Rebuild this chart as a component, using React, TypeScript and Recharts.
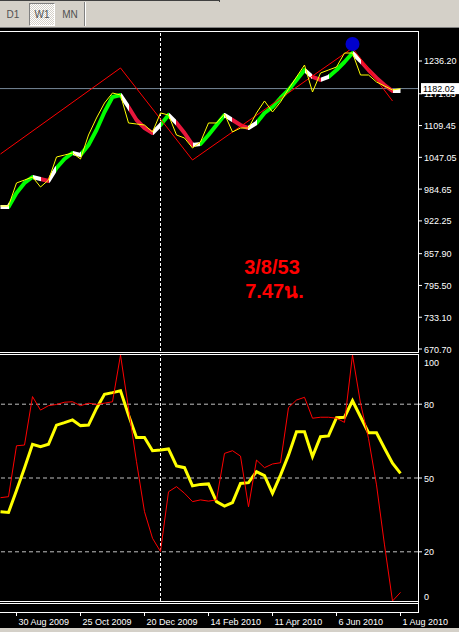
import React from 'react'
import {
  ComposedChart,
  Line,
  XAxis,
  YAxis,
  ReferenceLine,
  ReferenceDot,
} from 'recharts'

// weekly bars, 16 Aug 2009 .. 1 Aug 2010 (51 bars)
const closes = [
  951.5, 951.5, 996.7, 1002.5, 1008.4, 988.8, 1002.5, 1047.7, 1051.6, 1055.6,
  1043.8, 1090.9, 1124.3, 1153.7, 1173.4, 1169.4, 1114.5, 1112.5, 1110.5, 1096.8,
  1134.1, 1130.2, 1090.9, 1085.0, 1065.4, 1077.2, 1114.5, 1114.5, 1132.1, 1096.8,
  1104.6, 1104.6, 1134.1, 1157.7, 1136.1, 1155.7, 1181.2, 1204.8, 1228.3, 1175.3,
  1212.6, 1218.5, 1224.4, 1251.9, 1251.9, 1208.7, 1208.7, 1195.0, 1187.1, 1179.3,
  1182.0,
]

const maLine = [
  949.5, 949.5, 977.0, 996.7, 1008.4, 1004.5, 1000.6, 1026.1, 1043.8, 1055.6,
  1051.6, 1071.3, 1100.7, 1136.1, 1165.5, 1169.4, 1145.9, 1120.4, 1104.6, 1094.8,
  1110.5, 1130.2, 1114.5, 1094.8, 1071.3, 1073.2, 1090.9, 1110.5, 1130.2, 1120.4,
  1110.5, 1104.6, 1114.5, 1134.1, 1145.9, 1163.6, 1179.3, 1198.9, 1218.5, 1204.8,
  1198.9, 1204.8, 1218.5, 1234.2, 1251.9, 1236.2, 1218.5, 1202.8, 1189.1, 1177.3,
  1177.3,
]

// colour of each MA segment: g = up, r = down, w = turn
const maTrend = 'wgggwrwggwgggggwrrrwgwrrwgggwrrwggggggwrwgggwrrrrw'

const zigzagPivots: [number, number][] = [
  [0, 1053.6],
  [15, 1222.5],
  [24, 1041.8],
  [44, 1261.7],
  [49, 1157.7],
]

const topSignal = { bar: 44, price: 1269.6 }
const bid = 1182.02

const oscFast = [
  42.0, 42.4, 63.1, 63.4, 83.1, 77.6, 79.4, 79.9, 80.8, 81.0,
  79.4, 80.4, 79.9, 80.4, 81.0, 100, 78.3, 56.6, 36.3, 25.5,
  20.1, 44.4, 46.5, 43.8, 40.4, 41.1, 40.6, 41.1, 60.0, 61.1,
  58.9, 38.3, 57.3, 54.2, 55.7, 56.2, 78.6, 81.7, 82.8, 74.3,
  74.7, 74.7, 74.3, 72.6, 100, 80.4, 66.1, 47.2, 22.8, 0,
  3.5,
]

const oscSlow = [
  36.3, 36.0, 44.9, 54.1, 63.7, 62.7, 63.7, 71.5, 72.5, 73.6,
  71.3, 71.5, 78.3, 84.0, 84.7, 85.5, 75.6, 66.5, 66.5, 61.1,
  61.4, 61.8, 54.9, 54.2, 46.8, 47.4, 47.6, 40.4, 38.6, 40.0,
  47.8, 48.1, 52.6, 51.0, 43.8, 51.2, 59.3, 68.8, 68.8, 58.7,
  66.8, 67.1, 74.5, 74.7, 81.4, 74.9, 68.4, 68.4, 62.1, 56.0,
  51.9,
]

const priceTicks = [670.7, 733.1, 795.5, 857.9, 922.25, 984.65, 1047.05, 1109.45, 1171.85, 1236.2]
const oscTicks = [0, 20, 50, 80, 100]
const oscLevels = [20, 50, 80]
const dateTickBars = [2, 10, 18, 26, 34, 42, 50]
const dateTickLabels = ['30 Aug 2009', '25 Oct 2009', '20 Dec 2009', '14 Feb 2010', '11 Apr 2010', '6 Jun 2010', '1 Aug 2010']
const markerBar = 20

const xDomain = [-0.0625, 52.1875]
const FONT = '"Liberation Sans", Arial, sans-serif'
const TREND_COLORS: Record<string, string> = { g: '#00ff00', r: '#e8173c', w: '#ffffff' }

const mainData = closes.map((c, i) => {
  const pivot = zigzagPivots.find((p) => p[0] === i)
  return { bar: i, close: c, ma: maLine[i], zz: pivot ? pivot[1] : null }
})

const oscData = oscFast.map((v, i) => ({ bar: i, fast: v, slow: oscSlow[i] }))

function PriceTick(props: any) {
  const { x, y, payload } = props
  const v = payload.value
  if (v === bid) {
    return (
      <g>
        <rect x={x + 3} y={y - 5.5} width={38} height={11} fill="#ffffff" />
        <text x={x + 5} y={y + 3.5} fill="#000" fontSize={9} fontFamily={FONT}>
          {v.toFixed(2)}
        </text>
      </g>
    )
  }
  return (
    <g>
      <line x1={x + 1} x2={x + 4} y1={y} y2={y} stroke="#fff" />
      <text x={x + 6} y={y + 3.5} fill="#fff" fontSize={9} fontFamily={FONT}>
        {v.toFixed(2)}
      </text>
    </g>
  )
}

function OscTick(props: any) {
  const { x, y, payload } = props
  const v = payload.value
  let dy = 0
  if (v === 100) dy = 7
  if (v === 0) dy = -5
  return (
    <g>
      {v !== 0 && v !== 100 && <line x1={x + 1} x2={x + 4} y1={y} y2={y} stroke="#fff" />}
      <text x={x + 6} y={y + dy + 3.5} fill="#fff" fontSize={9} fontFamily={FONT}>
        {v}
      </text>
    </g>
  )
}

function DateTick(props: any) {
  const { x, y, payload } = props
  const idx = dateTickBars.indexOf(payload.value)
  return (
    <g>
      <line x1={x} x2={x} y1={y + 11} y2={y + 15} stroke="#fff" />
      <text x={x + 2} y={y + 24} fill="#fff" fontSize={9} fontFamily={FONT}>
        {dateTickLabels[idx]}
      </text>
    </g>
  )
}

const hLine = (top: number, left: number, width: number, color = '#fff') => (
  <div style={{ position: 'absolute', top, left, width, height: 1, background: color }} />
)
const vLine = (left: number, top: number, height: number, color = '#fff') => (
  <div style={{ position: 'absolute', top, left, width: 1, height, background: color }} />
)

export default function App() {
  return (
    <div
      style={{
        position: 'fixed',
        top: 0,
        left: 0,
        width: 459,
        height: 632,
        background: '#000',
        overflow: 'hidden',
        fontFamily: FONT,
      }}
    >
      {/* toolbar */}
      <div style={{ position: 'absolute', top: 0, left: 0, width: 459, height: 28, background: '#d4d0c8' }} />
      {hLine(0, 0, 219, '#404040')}
      {vLine(219, 0, 2, '#404040')}
      {hLine(27, 0, 459, '#808080')}
      <div
        style={{
          position: 'absolute',
          top: 3,
          left: 29,
          width: 24,
          height: 21,
          borderTop: '1px solid #808080',
          borderLeft: '1px solid #808080',
          borderBottom: '1px solid #fff',
          borderRight: '1px solid #fff',
          background: 'repeating-conic-gradient(#ffffff 0 25%, #d4d0c8 0 50%) 0 0 / 2px 2px',
        }}
      />
      {[
        { t: 'D1', left: 0 },
        { t: 'W1', left: 29 },
        { t: 'MN', left: 57 },
      ].map((b) => (
        <div
          key={b.t}
          style={{
            position: 'absolute',
            top: 9,
            left: b.left,
            width: 26,
            textAlign: 'center',
            fontSize: 10,
            lineHeight: '12px',
            color: '#505050',
          }}
        >
          {b.t}
        </div>
      ))}
      {vLine(84, 2, 24, '#808080')}
      {vLine(85, 2, 24, '#ffffff')}

      {/* main window */}
      <div style={{ position: 'absolute', top: 0, left: 0 }}>
        <ComposedChart width={459} height={360} data={mainData} margin={{ top: 31, right: 0, bottom: 9, left: 0 }}>
          <defs>
            <linearGradient id="maGrad" x1="0" y1="0" x2="1" y2="0">
              {maTrend.split('').flatMap((c, i) => [
                <stop key={`a${i}`} offset={i / maTrend.length} stopColor={TREND_COLORS[c]} />,
                <stop key={`b${i}`} offset={(i + 1) / maTrend.length} stopColor={TREND_COLORS[c]} />,
              ])}
            </linearGradient>
          </defs>
          <XAxis dataKey="bar" type="number" domain={xDomain} hide allowDataOverflow />
          <YAxis
            orientation="right"
            width={41}
            domain={[666.78, 1295.1]}
            ticks={[...priceTicks, bid]}
            interval={0}
            allowDataOverflow
            axisLine={false}
            tickLine={false}
            tickSize={0}
            tickMargin={0}
            tick={PriceTick}
          />
          <ReferenceLine y={bid} stroke="#778899" />
          <ReferenceLine x={markerBar} stroke="#fff" strokeDasharray="3 2" />
          <Line
            dataKey="ma"
            type="linear"
            stroke="url(#maGrad)"
            strokeWidth={4}
            strokeLinejoin="round"
            dot={false}
            activeDot={false}
            isAnimationActive={false}
          />
          <Line
            dataKey="zz"
            type="linear"
            stroke="#ff0000"
            strokeWidth={1}
            connectNulls
            dot={false}
            activeDot={false}
            isAnimationActive={false}
          />
          <Line
            dataKey="close"
            type="linear"
            stroke="#ffff00"
            strokeWidth={1}
            dot={false}
            activeDot={false}
            isAnimationActive={false}
          />
          <ReferenceDot x={topSignal.bar} y={topSignal.price} r={7} fill="#0000cc" stroke="none" />
        </ComposedChart>
      </div>

      {/* indicator window */}
      <div style={{ position: 'absolute', top: 352, left: 0 }}>
        <ComposedChart width={459} height={280} data={oscData} margin={{ top: 3, right: 0, bottom: 0, left: 0 }}>
          <XAxis
            dataKey="bar"
            type="number"
            domain={xDomain}
            allowDataOverflow
            ticks={dateTickBars}
            interval={0}
            height={31}
            axisLine={false}
            tickLine={false}
            tickSize={0}
            tickMargin={0}
            tick={DateTick}
          />
          <YAxis
            orientation="right"
            width={41}
            domain={[0, 100]}
            ticks={oscTicks}
            interval={0}
            allowDataOverflow
            axisLine={false}
            tickLine={false}
            tickSize={0}
            tickMargin={0}
            tick={OscTick}
          />
          {oscLevels.map((l) => (
            <ReferenceLine key={l} y={l} stroke="#c0c0c0" strokeDasharray="4 3" />
          ))}
          <ReferenceLine x={markerBar} stroke="#fff" strokeDasharray="3 2" />
          <Line
            dataKey="slow"
            type="linear"
            stroke="#ffff00"
            strokeWidth={3}
            dot={false}
            activeDot={false}
            isAnimationActive={false}
          />
          <Line
            dataKey="fast"
            type="linear"
            stroke="#ff0000"
            strokeWidth={1}
            dot={false}
            activeDot={false}
            isAnimationActive={false}
          />
        </ComposedChart>
      </div>

      {/* window frames */}
      {hLine(31, 0, 418)}
      {hLine(352, 0, 418)}
      {hLine(354, 0, 418)}
      {hLine(601, 0, 418)}
      {hLine(603, 0, 418)}
      {hLine(612, 0, 418)}
      {vLine(418, 31, 322)}
      {vLine(418, 354, 259)}
      <div style={{ position: 'absolute', top: 628, left: 0, width: 459, height: 4, background: '#d4d0c8' }} />

      {/* annotation */}
      <div
        style={{
          position: 'absolute',
          top: 255,
          left: 222,
          width: 100,
          textAlign: 'center',
          color: '#ff0000',
          fontWeight: 'bold',
          fontSize: 20,
          lineHeight: '24px',
        }}
      >
        <div>3/8/53</div>
        <div style={{ paddingLeft: 5 }}>7.47น.</div>
      </div>
    </div>
  )
}
